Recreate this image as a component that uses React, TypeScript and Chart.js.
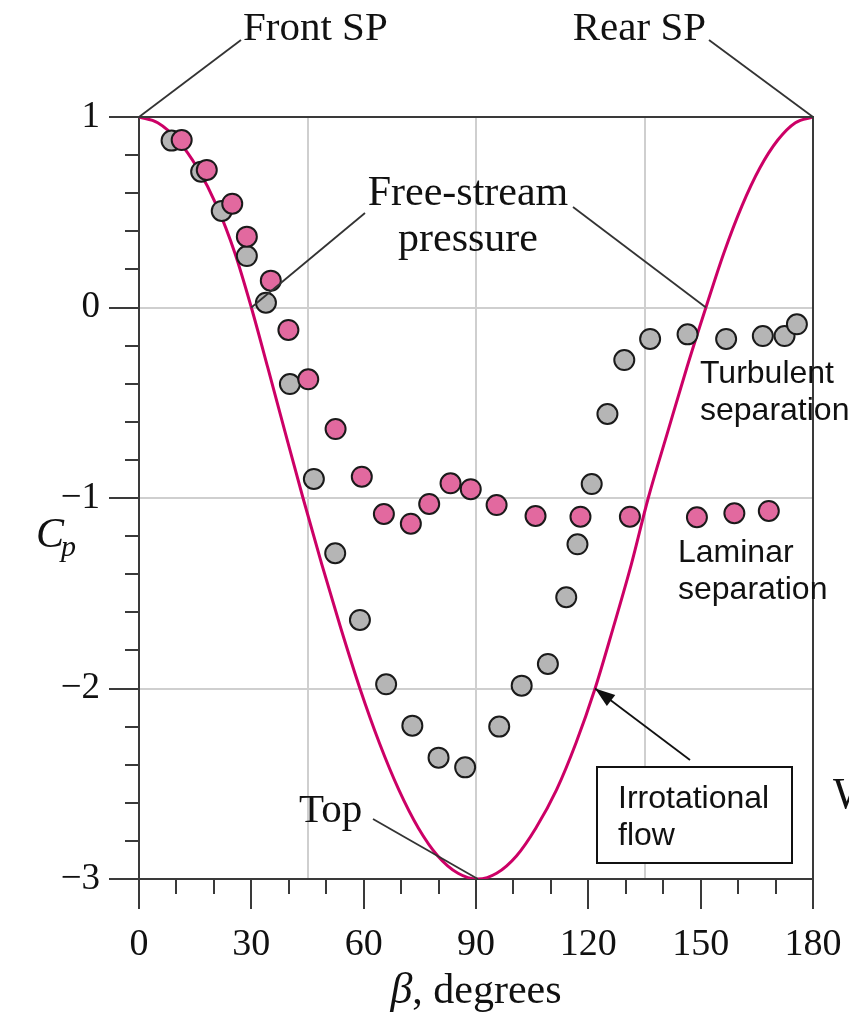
import React, { useEffect, useRef } from 'react';
import { Chart, registerables } from 'chart.js';

Chart.register(...registerables);

// Irrotational-flow curve
const curveBeta = [0, 5, 10.3, 15.6, 20.8, 25.6, 30, 34.4, 39, 43.8, 48.8, 53.9, 59, 64.2, 69.4, 74.6, 79.8, 85.2, 90.5, 95.5, 100.8, 106, 111.5, 116.7, 121.8, 126.6, 131.5, 136, 141.2, 146.3, 151.4, 156.2, 161, 165.8, 170.6, 175.3, 180];
const curveCp = [1, 0.97, 0.879, 0.732, 0.532, 0.286, 0, -0.316, -0.653, -1, -1.347, -1.684, -2, -2.286, -2.532, -2.732, -2.879, -2.97, -3, -2.97, -2.879, -2.732, -2.532, -2.286, -2, -1.684, -1.347, -1, -0.653, -0.316, 0, 0.286, 0.532, 0.732, 0.879, 0.97, 1];

// Turbulent (grey) measurements
const greyBeta = [8.7, 16.6, 22.1, 28.8, 33.9, 40.3, 46.7, 52.4, 59.0, 66.0, 73.0, 80.0, 87.1, 96.2, 102.2, 109.2, 114.1, 117.1, 120.9, 125.1, 129.6, 136.5, 146.5, 156.8, 166.6, 172.4, 175.7];
const greyCp = [0.876, 0.713, 0.507, 0.27, 0.025, -0.402, -0.9, -1.29, -1.64, -1.978, -2.195, -2.363, -2.414, -2.2, -1.985, -1.871, -1.521, -1.243, -0.927, -0.559, -0.276, -0.165, -0.141, -0.165, -0.15, -0.15, -0.088];

// Laminar (pink) measurements
const pinkBeta = [11.4, 18.1, 24.9, 28.8, 35.2, 39.9, 45.2, 52.5, 59.5, 65.4, 72.6, 77.5, 83.2, 88.6, 95.5, 105.9, 117.9, 131.1, 149.0, 159.0, 168.2];
const pinkCp = [0.879, 0.722, 0.545, 0.372, 0.141, -0.118, -0.377, -0.638, -0.888, -1.084, -1.135, -1.031, -0.923, -0.954, -1.037, -1.094, -1.098, -1.098, -1.101, -1.08, -1.068];

// Axis ticks
const xMajorTicks = [0, 30, 60, 90, 120, 150, 180];
const xGridLines = [45, 90, 135];
const xMinorTicks = [10, 20, 40, 50, 70, 80, 100, 110, 130, 140, 160, 170];
const yMajorTicks = [-3, -2, -1, 0, 1];
const yGridLines = [0, -1, -2];
const yMinorTicks = [0.8, 0.6, 0.4, 0.2, -0.2, -0.4, -0.6, -0.8, -1.2, -1.4, -1.6, -1.8, -2.2, -2.4, -2.6, -2.8];

const SERIF = "'Liberation Serif', 'Times New Roman', serif";
const SANS = "'Liberation Sans', Arial, sans-serif";
const AXIS = '#3a3a3a';
const GRID = '#cfcfcf';

function toPoints(xs: number[], ys: number[]) {
  return xs.map((v, i) => ({ x: v, y: ys[i] }));
}

export default function App() {
  const ref = useRef<HTMLCanvasElement>(null);

  useEffect(() => {
    document.body.style.margin = '0';
    const canvas = ref.current;
    if (!canvas) return;

    const overlay = {
      id: 'overlay',
      afterDraw(chart: any) {
        const { ctx, chartArea: a } = chart;
        const xs = chart.scales.x;
        const ys = chart.scales.y;
        const px = (v: number) => xs.getPixelForValue(v);
        const py = (v: number) => ys.getPixelForValue(v);
        ctx.save();
        // top & right frame
        ctx.strokeStyle = AXIS;
        ctx.lineWidth = 2;
        ctx.beginPath();
        ctx.moveTo(a.left, a.top);
        ctx.lineTo(a.right, a.top);
        ctx.lineTo(a.right, a.bottom);
        ctx.stroke();
        // minor ticks
        ctx.beginPath();
        xMinorTicks.forEach((v) => {
          const x = Math.round(px(v));
          ctx.moveTo(x, a.bottom);
          ctx.lineTo(x, a.bottom + 15);
        });
        yMinorTicks.forEach((v) => {
          const y = Math.round(py(v));
          ctx.moveTo(a.left - 14, y);
          ctx.lineTo(a.left, y);
        });
        ctx.stroke();

        // leader lines
        ctx.strokeStyle = '#333';
        ctx.lineWidth = 1.8;
        const seg = (x1: number, y1: number, x2: number, y2: number) => {
          ctx.beginPath();
          ctx.moveTo(x1, y1);
          ctx.lineTo(x2, y2);
          ctx.stroke();
        };
        seg(px(0), py(1), 241, 40);
        seg(px(180), py(1), 709, 40);
        seg(365, 213, px(30), py(0));
        seg(573, 207, px(151.4), py(0));
        seg(373, 819, px(90.5), py(-3));

        // arrow to irrotational curve
        const tx = px(121.8), ty = py(-2);
        const sx = 690, sy = 760;
        ctx.strokeStyle = '#111';
        seg(sx, sy, tx, ty);
        const ang = Math.atan2(ty - sy, tx - sx);
        const L = 20, W = 7;
        ctx.fillStyle = '#111';
        ctx.beginPath();
        ctx.moveTo(tx, ty);
        ctx.lineTo(tx - L * Math.cos(ang) + W * Math.sin(ang), ty - L * Math.sin(ang) - W * Math.cos(ang));
        ctx.lineTo(tx - L * Math.cos(ang) - W * Math.sin(ang), ty - L * Math.sin(ang) + W * Math.cos(ang));
        ctx.closePath();
        ctx.fill();

        // box
        ctx.fillStyle = '#ffffff';
        ctx.fillRect(597, 767, 195, 96);
        ctx.strokeStyle = '#111';
        ctx.lineWidth = 2;
        ctx.strokeRect(597, 767, 195, 96);

        // texts
        ctx.fillStyle = '#111';
        ctx.textBaseline = 'alphabetic';
        ctx.textAlign = 'left';
        ctx.font = `41px ${SERIF}`;
        ctx.fillText('Front SP', 243, 40);
        ctx.textAlign = 'right';
        ctx.fillText('Rear SP', 706, 40);
        ctx.textAlign = 'center';
        ctx.font = `42px ${SERIF}`;
        ctx.fillText('Free-stream', 468, 205);
        ctx.fillText('pressure', 468, 251);
        ctx.textAlign = 'left';
        ctx.font = `41px ${SERIF}`;
        ctx.fillText('Top', 299, 822);
        ctx.font = `44px ${SERIF}`;
        ctx.fillText('W', 833, 808);

        ctx.font = `32px ${SANS}`;
        ctx.fillText('Turbulent', 700, 383);
        ctx.fillText('separation', 700, 420);
        ctx.fillText('Laminar', 678, 562);
        ctx.fillText('separation', 678, 599);
        ctx.fillText('Irrotational', 618, 808);
        ctx.fillText('flow', 618, 845);

        // axis titles
        ctx.font = `italic 44px ${SERIF}`;
        const bW = ctx.measureText('β').width;
        ctx.font = `42px ${SERIF}`;
        const rest = ', degrees';
        const rW = ctx.measureText(rest).width;
        const startX = 476 - (bW + rW) / 2;
        ctx.font = `italic 44px ${SERIF}`;
        ctx.fillText('β', startX, 1003);
        ctx.font = `42px ${SERIF}`;
        ctx.fillText(rest, startX + bW, 1003);

        ctx.font = `italic 42px ${SERIF}`;
        ctx.fillText('C', 36, 547);
        const cW = ctx.measureText('C').width;
        ctx.font = `italic 30px ${SERIF}`;
        ctx.fillText('p', 36 + cW - 3, 556);
        ctx.restore();
      },
    };

    const chart = new Chart(canvas, {
      type: 'scatter',
      data: {
        datasets: [
          {
            label: 'Laminar',
            data: toPoints(pinkBeta, pinkCp),
            backgroundColor: '#e2699f',
            borderColor: '#1a1a1a',
            borderWidth: 2,
            pointRadius: 10,
            order: 1,
          },
          {
            label: 'Turbulent',
            data: toPoints(greyBeta, greyCp),
            backgroundColor: '#b5b5b5',
            borderColor: '#1a1a1a',
            borderWidth: 2,
            pointRadius: 10,
            order: 2,
          },
          {
            label: 'Irrotational flow',
            data: toPoints(curveBeta, curveCp),
            showLine: true,
            borderColor: '#cc0066',
            borderWidth: 3,
            pointRadius: 0,
            cubicInterpolationMode: 'monotone',
            fill: false,
            order: 3,
          } as any,
        ],
      },
      options: {
        animation: false,
        responsive: false,
        maintainAspectRatio: false,
        devicePixelRatio: 1,
        layout: { padding: { left: 0, top: 117, right: 36, bottom: 0 } },
        plugins: { legend: { display: false }, tooltip: { enabled: false } },
        scales: {
          x: {
            type: 'linear',
            min: 0,
            max: 180,
            afterFit: (s: any) => { s.height = 138; s.paddingLeft = 0; s.paddingRight = 0; },
            afterBuildTicks: (s: any) => {
              s.ticks = [...xMajorTicks, 45, 135].sort((p, q) => p - q).map((v) => ({ value: v }));
            },
            ticks: {
              autoSkip: false,
              maxRotation: 0,
              padding: 13,
              color: '#111',
              font: { family: SERIF, size: 38 },
              callback: (v: any) => (xMajorTicks.includes(Number(v)) ? String(v) : ''),
            },
            grid: {
              color: (c: any) => (xGridLines.includes(c.tick?.value) ? GRID : 'rgba(0,0,0,0)'),
              lineWidth: 2,
              tickLength: 30,
              tickWidth: 2,
              tickColor: (c: any) => (xMajorTicks.includes(c.tick?.value) ? AXIS : 'rgba(0,0,0,0)'),
            },
            border: { display: true, color: AXIS, width: 2 },
          },
          y: {
            type: 'linear',
            min: -3,
            max: 1,
            afterFit: (s: any) => { s.width = 139; s.paddingTop = 0; s.paddingBottom = 0; },
            afterBuildTicks: (s: any) => {
              s.ticks = yMajorTicks.map((v) => ({ value: v }));
            },
            ticks: {
              autoSkip: false,
              padding: 9,
              color: '#111',
              font: { family: SERIF, size: 37 },
              callback: (v: any) => (Number(v) < 0 ? '\u2212' + Math.abs(Number(v)) : String(v)),
            },
            grid: {
              color: (c: any) => (yGridLines.includes(c.tick?.value) ? GRID : 'rgba(0,0,0,0)'),
              lineWidth: 2,
              tickLength: 30,
              tickWidth: 2,
              tickColor: AXIS,
            },
            border: { display: true, color: AXIS, width: 2 },
          },
        },
      },
      plugins: [overlay],
    });

    return () => chart.destroy();
  }, []);

  return (
    <div style={{ width: 849, height: 1017, background: '#fff' }}>
      <canvas ref={ref} width={849} height={1017} style={{ display: 'block' }} />
    </div>
  );
}
